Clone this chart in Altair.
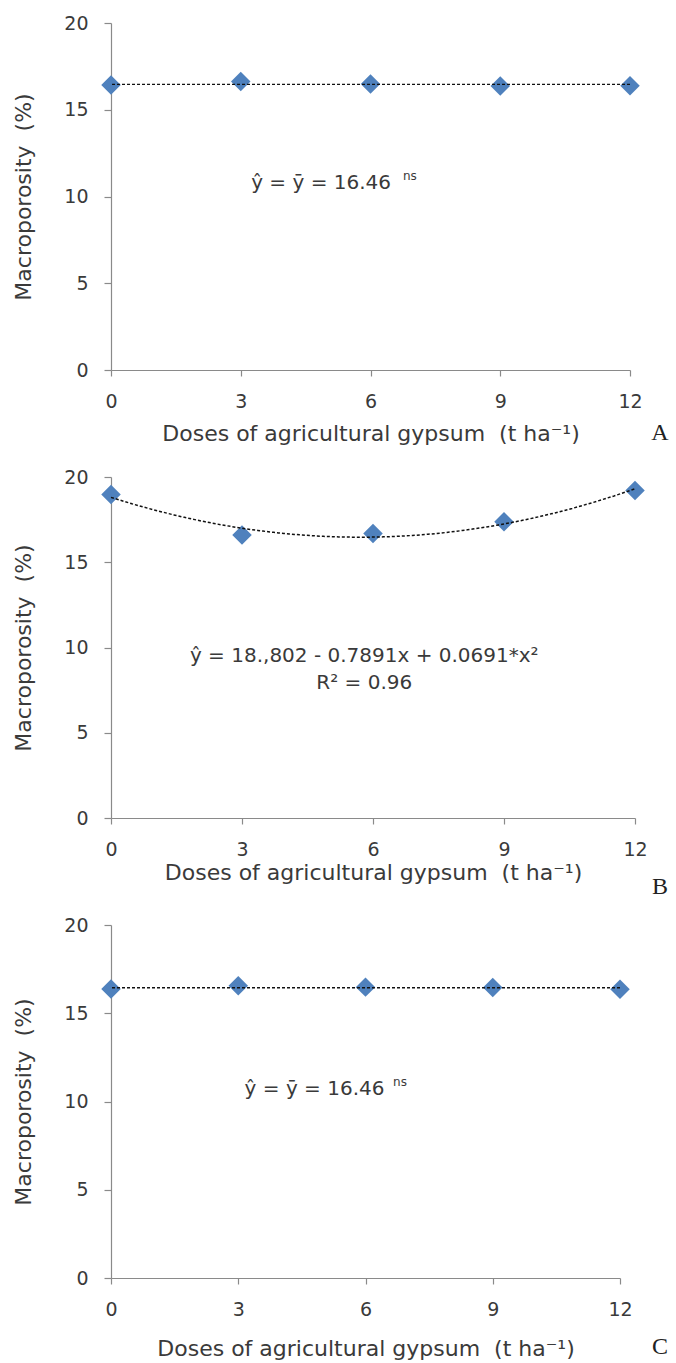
import altair as alt
import pandas as pd

# ---------------- data ----------------
doses = [0, 3, 6, 9, 12]
macro_a = [16.43, 16.63, 16.49, 16.37, 16.39]
macro_b = [18.97, 16.60, 16.68, 17.37, 19.21]
macro_c = [16.38, 16.56, 16.48, 16.46, 16.36]

x_ticks = [0, 3, 6, 9, 12]
y_ticks = [0, 5, 10, 15, 20]

eq_a = "ŷ = ȳ = 16.46"
eq_b1 = "ŷ = 18.,802 - 0.7891x + 0.0691*x²"
eq_b2 = "R² = 0.96"
eq_c = "ŷ = ȳ = 16.46"
sup_ns = "ns"
letters = ["A", "B", "C"]
x_title = "Doses of agricultural gypsum \u00a0(t ha⁻¹)"
y_title = "Macroporosity \u00a0(%)"

FONT = "DejaVu Sans"
TXT = "#3a3a3a"
BLUE = "#4F81BD"
AXIS = "#8a8a8a"


def text_layer(label, x, y, align="left", size=20, dy=0):
    d = pd.DataFrame({"label": [label]})
    return alt.Chart(d).mark_text(
        align=align, baseline="middle", font=FONT, fontSize=size, color=TXT, dy=dy
    ).encode(x=alt.datum(x), y=alt.datum(y), text="label:N")


def make_panel(values, width, height, fit, x_title_pad, letter, letter_dy, texts):
    df = pd.DataFrame({"dose": doses, "macro": values})
    x_enc = alt.X(
        "dose:Q",
        scale=alt.Scale(domain=[0, 12], nice=False, zero=False),
        axis=alt.Axis(values=x_ticks, title=x_title, titlePadding=x_title_pad),
    )
    y_enc = alt.Y(
        "macro:Q",
        scale=alt.Scale(domain=[0, 20], nice=False),
        axis=alt.Axis(values=y_ticks, title=y_title),
    )
    pts = alt.Chart(df).mark_point(
        shape="diamond", filled=True, size=380, color=BLUE, opacity=1
    ).encode(x=x_enc, y=y_enc)
    if fit == "mean":
        line = alt.Chart(df).mark_rule(
            color="#111111", strokeDash=[3, 2], strokeWidth=1.4
        ).encode(y=alt.Y("mean(macro):Q", title=y_title))
    else:
        line = (
            alt.Chart(df)
            .transform_regression("dose", "macro", method="poly", order=2)
            .mark_line(color="#111111", strokeDash=[3, 2], strokeWidth=1.5)
            .encode(x=alt.X("dose:Q", title=x_title), y=alt.Y("macro:Q", title=y_title))
        )
    lt = alt.Chart(pd.DataFrame({"letter": [letter]})).mark_text(
        font="Liberation Serif", fontSize=24, color="#222222", baseline="middle"
    ).encode(x=alt.value(549), y=alt.value(height + letter_dy), text="letter:N")
    return alt.layer(pts, line, *texts, lt).properties(width=width, height=height)


panel_a = make_panel(
    macro_a, 519, 347, "mean", 12, letters[0], 63,
    [text_layer(eq_a, 3.24, 10.75), text_layer(sup_ns, 6.75, 10.75, size=12, dy=-7)],
)
panel_b = make_panel(
    macro_b, 524, 341, "poly", 3, letters[1], 69,
    [text_layer(eq_b1, 5.8, 9.5, align="center"), text_layer(eq_b2, 5.8, 7.9, align="center")],
)
panel_c = make_panel(
    macro_c, 509, 353, "mean", 19, letters[2], 69,
    [text_layer(eq_c, 3.15, 10.7), text_layer(sup_ns, 6.65, 10.7, size=12, dy=-7)],
)

chart = (
    alt.vconcat(panel_a, panel_b, panel_c, spacing=107, bounds="flush")
    .properties(padding={"left": 12, "top": 14, "right": 5, "bottom": 5})
    .configure_view(stroke=None)
    .configure_axis(
        grid=False,
        domainColor=AXIS,
        domainWidth=1.2,
        tickColor=AXIS,
        tickWidth=1.2,
        labelFont=FONT,
        labelFontSize=19,
        labelColor=TXT,
        titleFont=FONT,
        titleFontSize=22,
        titleFontWeight="normal",
        titleColor=TXT,
    )
    .configure_axisX(tickSize=6, labelPadding=16, labelFlush=False)
    .configure_axisY(tickSize=7, labelPadding=16, titlePadding=28)
)

chart.save("out.html", embed_options={"renderer": "svg", "actions": False})
